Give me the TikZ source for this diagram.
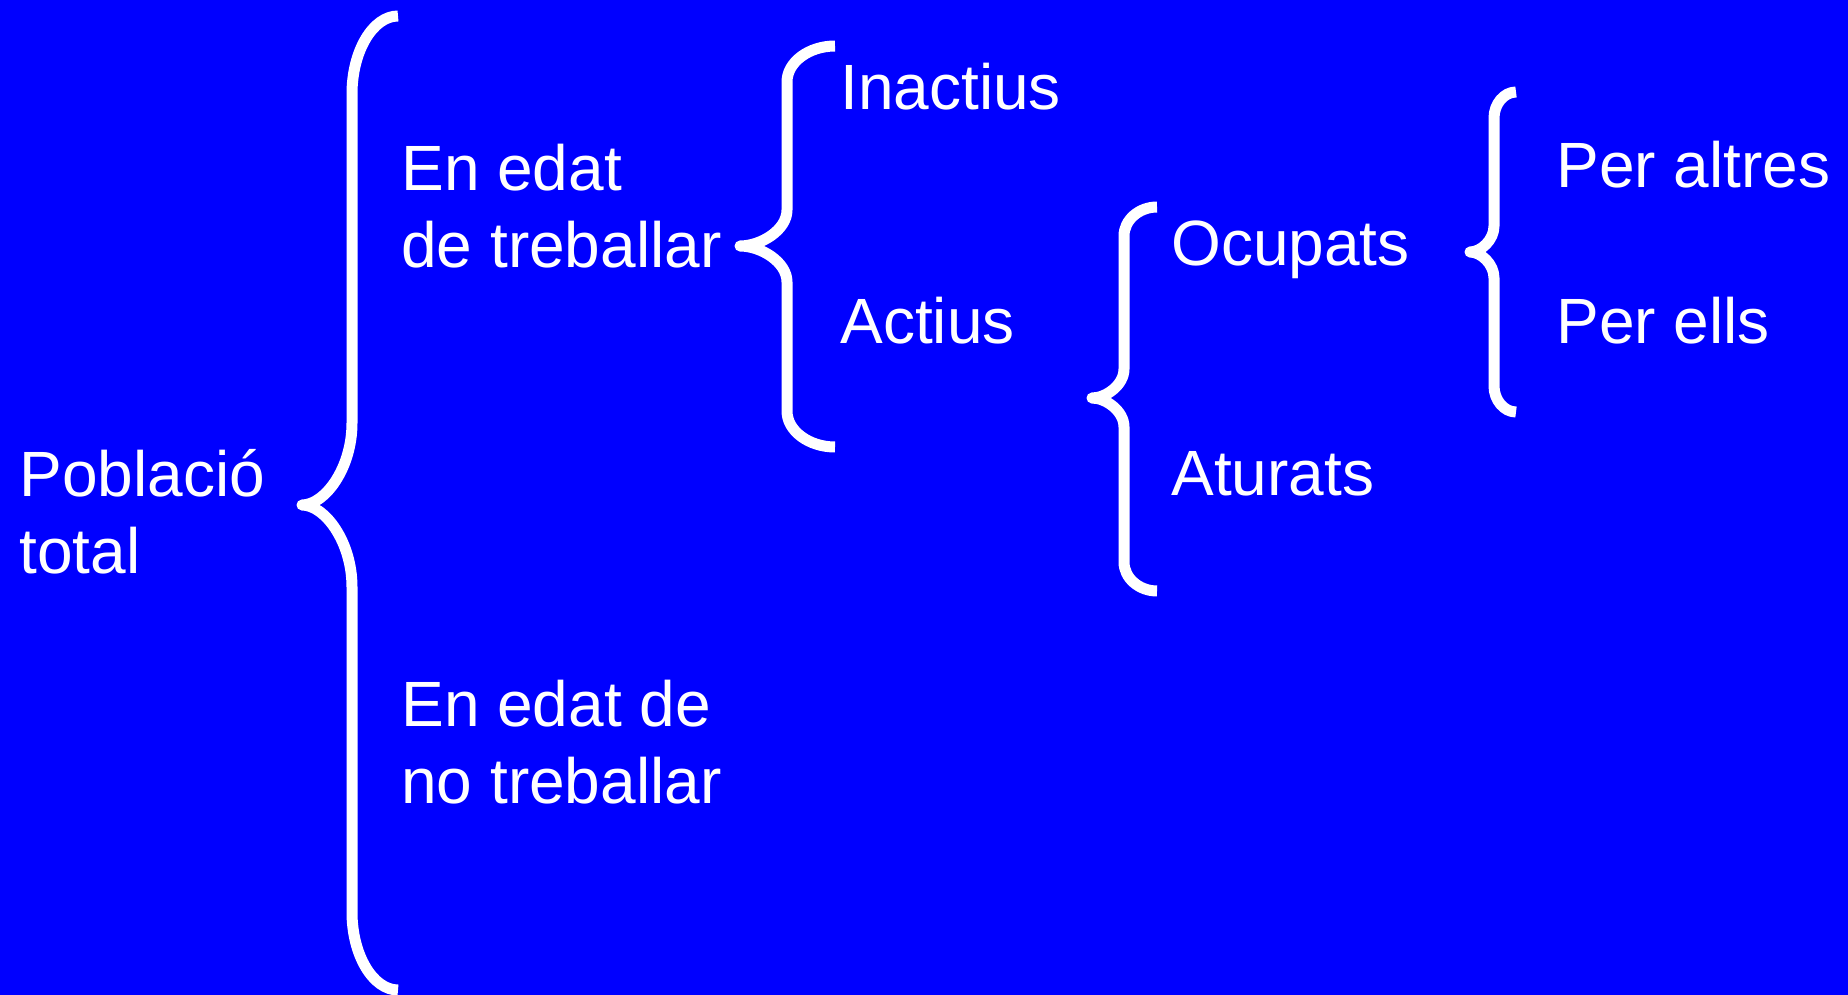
\documentclass[tikz,border=0pt]{standalone}
\usepackage{fontspec}
\setmainfont{Liberation Sans}
\definecolor{pobBlue}{HTML}{0000FF}
\tikzset{
  every picture/.style={font=\fontsize{32pt}{38.5pt}\selectfont, text=white},
  pob label/.style={anchor=base west, inner sep=0pt, align=left},
  pob brace/.style={draw=white, line width=5.5pt, line join=round, line cap=butt}
}

\begin{document}
\begin{tikzpicture}[x=0.5pt,y=-0.5pt]
  \fill[pobBlue] (0,0) rectangle (1848,995);
  \useasboundingbox (0,0) rectangle (1848,995);

  % labels (two-line labels sit on the baseline of their last line)
  \node[pob label] (pob) at (19,573) {Població\\total};
  \node[pob label] (edat) at (401,267) {En edat\\de treballar};
  \node[pob label] (noedat) at (401,803) {En edat de\\no treballar};
  \node[pob label] (inactius) at (840,110) {Inactius};
  \node[pob label] (actius) at (840,343) {Actius};
  \node[pob label] (ocupats) at (1171,265) {Ocupats};
  \node[pob label] (aturats) at (1171,495) {Aturats};
  \node[pob label] (altres) at (1556,188) {Per altres};
  \node[pob label] (ells) at (1556,343) {Per ells};

  % braces
  \draw[pob brace] (398,16) .. controls (373,16) and (352,51) .. (352,94)
    -- (352,423) .. controls (352,468) and (325,505) .. (302,505)
    .. controls (325,505) and (352,542) .. (352,587)
    -- (352,912) .. controls (352,955) and (373,990) .. (398,990);
  \draw[pob brace] (835,46) .. controls (809,46) and (787,62) .. (787,82)
    -- (787,210) .. controls (787,230) and (761,246) .. (740,246)
    .. controls (761,246) and (787,262) .. (787,282)
    -- (787,411) .. controls (787,431) and (809,447) .. (835,447);
  \draw[pob brace] (1157,207) .. controls (1139,207) and (1124,220) .. (1124,236)
    -- (1124,369) .. controls (1124,385) and (1106,398) .. (1092,398)
    .. controls (1106,398) and (1124,411) .. (1124,427)
    -- (1124,562) .. controls (1124,578) and (1139,591) .. (1157,591);
  \draw[pob brace] (1516,92) .. controls (1504,92) and (1494,104) .. (1494,118)
    -- (1494,226) .. controls (1494,240) and (1481,252) .. (1470,252)
    .. controls (1481,252) and (1494,264) .. (1494,278)
    -- (1494,386) .. controls (1494,400) and (1504,412) .. (1516,412);
\end{tikzpicture}
\end{document}
